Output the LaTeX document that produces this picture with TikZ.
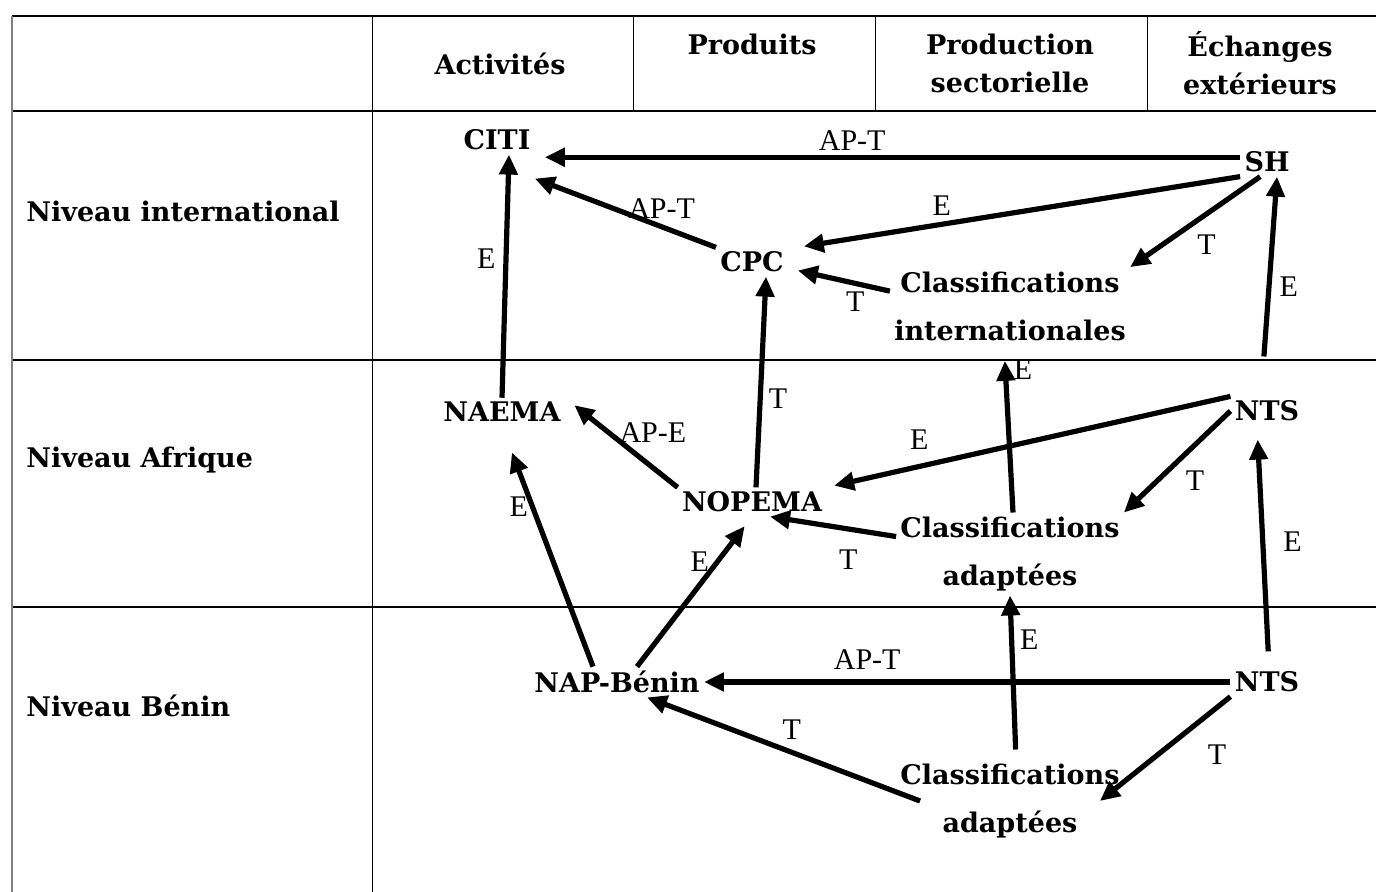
\documentclass[tikz,border=0pt]{standalone}
\usepackage{fontspec}
\setmainfont{DejaVu Serif}
\newfontfamily\labfont{Liberation Serif}
\usepackage{tikz}
\usetikzlibrary{arrows.meta}

\begin{document}
\begin{tikzpicture}[x=0.5pt, y=-0.5pt,
        box/.style = {font=\bfseries\fontsize{13.5}{24}\selectfont, align=center, inner sep=2pt},
        head/.style = {font=\bfseries\fontsize{13.5}{19}\selectfont, align=center, inner sep=0pt},
        lab/.style = {font=\labfont\fontsize{15}{16}\selectfont, inner sep=1pt},
        link/.style = {line width=2.6pt, -{Triangle[length=10pt,width=9pt]}}]
    \useasboundingbox (0,0) rectangle (1376,892);
    % table
    \draw[line width=1.2pt] (12,16) -- (1376,16);
    \draw[line width=1.2pt] (12,111) -- (1376,111);
    \draw[line width=1pt] (12,360) -- (1376,360);
    \draw[line width=1pt] (12,607) -- (1376,607);
    \draw[line width=0.6pt, gray] (12,16) -- (12,892);
    \draw[line width=0.5pt] (372,16) -- (372,892);
    \foreach \x in {633,875,1147} \draw[line width=0.5pt] (\x,16) -- (\x,111);
    \node[head] (h1) at (500,64) {Activités};
    \node[head] (h2) at (752,44) {Produits};
    \node[head] (h3) at (1010,63) {Production\\sectorielle};
    \node[head] (h4) at (1260,63) {Échanges\\extérieurs};
    \node[head, anchor=west] (r1) at (26,211) {Niveau international};
    \node[head, anchor=west] (r2) at (26,460) {Niveau Afrique};
    \node[head, anchor=west] (r3) at (26,706) {Niveau Bénin};
    % classifications
    \node[box] (citi) at (497,140) {CITI};
    \node[box] (sh) at (1267,162) {SH};
    \node[box] (cpc) at (752,262) {CPC};
    \node[box] (ci) at (1010,306) {Classifications\\internationales};
    \node[box] (naema) at (502,412) {NAEMA};
    \node[box] (ntsa) at (1267,411) {NTS};
    \node[box] (nopema) at (752,502) {NOPEMA};
    \node[box] (caa) at (1010,554) {Classifications\\adaptées};
    \node[box] (nap) at (617,682) {NAP-Bénin};
    \node[box] (ntsb) at (1267,682) {NTS};
    \node[box] (cab) at (1010,801) {Classifications\\adaptées};
    % liens
    \draw[link, shorten >=5pt] (sh.170) -- (sh.170 -| citi.east) node[lab, pos=0.55, above=1pt] {AP-T};
    \draw[link] (cpc.north west) -- ([yshift=-12pt]citi.south east) node[lab, pos=0.3, above=2pt] {AP-T};
    \draw[link, shorten >=8pt] (sh.south west) -- (cpc.20) node[lab, pos=0.66, above=2pt] {E};
    \draw[link] (sh.-115) -- (ci.north east) node[lab, pos=0.55, below right=2pt] {T};
    \draw[link, shorten >=5pt] ([yshift=-12pt]ci.north west) -- (cpc.-10) node[lab, pos=0.34, below=2pt] {T};
    \draw[link] (naema.north) -- ([xshift=6pt]citi.south) node[lab, pos=0.57, left=3pt] {E};
    \draw[link] ([xshift=2pt]nopema.north) -- ([xshift=7pt]cpc.south) node[lab, pos=0.42, right=2pt] {T};
    \draw[link, shorten <=20pt] ([xshift=-3pt]ntsa.north) -- ([xshift=5pt]sh.south) node[lab, pos=0.5, right=3pt] {E};
    \draw[link, shorten >=6pt] (nopema.north west) -- (naema.north east) node[lab, pos=0.45, anchor=south west, xshift=-6pt] {AP-E};
    \draw[link, shorten >=4pt] (ntsa.north west) -- (nopema.north east) node[lab, pos=0.77, above=6pt] {E};
    \draw[link, shorten >=8pt] ([xshift=1.5pt]caa.north) -- ([xshift=-3pt]ci.south) node[lab, pos=0.85, right=2pt] {E};
    \draw[link] (ntsa.west) -- (caa.north east) node[lab, pos=0.5, below right=2pt] {T};
    \draw[link] ([yshift=-12pt]caa.north west) -- ([xshift=9pt]nopema.south) node[lab, pos=0.38, below=8pt] {T};
    \draw[link, shorten >=14pt] ([xshift=-12pt]nap.north) -- (naema.south) node[lab, pos=0.665, left=0pt] {E};
    \draw[link, shorten >=6pt] ([xshift=10pt]nap.north) -- (nopema.south) node[lab, pos=0.7, left=2pt] {E};
    \draw[link, shorten >=7pt, shorten <=8pt] ([xshift=1pt]ntsb.north) -- ([xshift=-5pt]ntsa.south) node[lab, pos=0.52, right=8pt] {E};
    \draw[link] (ntsb.west) -- (nap.east) node[lab, pos=0.69, above=4pt] {AP-T};
    \draw[link, shorten <=5pt] ([xshift=3pt]cab.north) -- (caa.south) node[lab, pos=0.73, right=2pt] {E};
    \draw[link] (ntsb.south west) -- ([xshift=-12pt]cab.east) node[lab, pos=0.3, below right=6pt] {T};
    \draw[link] ([xshift=12pt]cab.west) -- ([xshift=15pt]nap.south) node[lab, pos=0.47, above=4pt] {T};
\end{tikzpicture}
\end{document}
